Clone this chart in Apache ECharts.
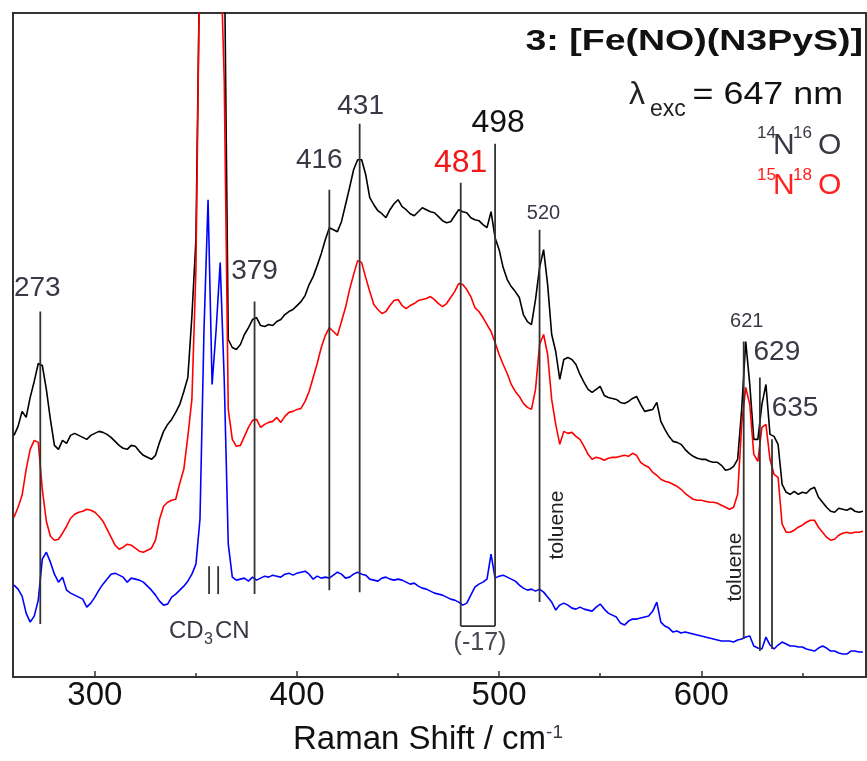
<!DOCTYPE html>
<html>
<head>
<meta charset="utf-8">
<title>Raman spectra of [Fe(NO)(N3PyS)]</title>
<script src="https://cdn.jsdelivr.net/npm/echarts@6/dist/echarts.min.js"></script>
<style>
  html, body { margin: 0; padding: 0; background: #fff; }
  #chart { width: 867px; height: 761px; }
</style>
</head>
<body>
<div id="chart"></div>
<script>
// Raman shift sampling (cm-1)
const shift = [
  260,262,264,266,268,270,272,274,276,278,280,282,284,286,288,290,292,294,296,298,
  300,302,304,306,308,310,312,314,316,318,320,322,324,326,328,330,332,334,336,338,
  340,342,344,346,348,350,352,354,356,358,360,362,364,366,368,370,372,374,376,378,
  380,382,384,386,388,390,392,394,396,398,400,402,404,406,408,410,412,414,416,418,
  420,422,424,426,428,430,432,434,436,438,440,442,444,446,448,450,452,454,456,458,
  460,462,464,466,468,470,472,474,476,478,480,482,484,486,488,490,492,494,496,498,
  500,502,504,506,508,510,512,514,516,518,520,522,524,526,528,530,532,534,536,538,
  540,542,544,546,548,550,552,554,556,558,560,562,564,566,568,570,572,574,576,578,
  580,582,584,586,588,590,592,594,596,598,600,602,604,606,608,610,612,614,616,618,
  620,622,624,626,628,630,632,634,636,638,640,642,644,646,648,650,652,654,656,658,
  660,662,664,666,668,670,672,674,676,678,680
];

// 14N16O spectrum (offset, arbitrary units; solvent bands near 350-364 run off scale)
const n14o16 = [
  242,251,266,260,280,296,314,312,288,258,232,228,237,234,242,244,242,240,238,242,
  244,246,245,243,240,236,232,229,228,232,231,226,222,220,218,222,235,246,253,258,
  265,273,286,300,361,438,740,740,740,740,740,740,740,338,330,328,333,343,350,358,
  360,352,351,353,352,356,358,363,366,368,372,376,382,393,401,412,424,438,450,448,
  446,456,473,490,508,518,518,503,480,473,467,464,460,468,474,478,471,468,464,462,
  466,470,468,466,465,461,457,455,456,462,468,466,465,460,458,457,453,450,466,440,
  428,410,398,391,386,380,363,356,353,378,410,428,393,343,326,298,318,320,318,313,
  303,295,288,285,288,291,282,280,279,278,275,274,276,279,281,273,266,267,268,275,
  256,248,241,236,235,233,228,224,221,219,218,218,216,215,215,212,207,208,211,218,
  268,336,293,238,238,273,293,243,241,233,193,185,183,186,183,185,184,188,190,180,
  175,170,166,165,169,168,167,169,166,165,166
];

// 15N18O spectrum
const n15o18 = [
  160,170,182,208,228,237,235,188,156,141,137,138,144,151,159,163,165,166,168,167,
  165,161,156,148,140,132,128,130,133,132,129,126,125,127,129,137,158,171,175,177,
  178,194,208,241,278,408,740,740,740,740,740,740,598,268,238,231,232,241,250,257,
  258,250,253,255,256,260,255,261,265,266,268,269,276,286,300,314,330,342,350,346,
  342,356,370,388,403,417,415,400,386,373,368,364,366,372,377,378,372,369,372,374,
  377,378,379,381,378,374,371,374,380,386,394,393,388,381,370,366,360,353,346,335,
  323,313,304,293,286,281,274,270,268,288,333,343,323,278,253,233,246,244,245,241,
  238,231,223,218,220,219,217,219,220,220,221,222,221,224,222,215,212,210,205,202,
  198,196,195,193,191,188,184,181,178,177,177,176,175,175,174,172,170,168,170,183,
  253,290,273,223,216,250,253,218,203,200,153,145,145,147,150,152,155,157,157,150,
  145,140,137,138,142,144,145,144,145,145,146
];

// Difference / solvent trace
const diffTrace = [
  92,88,81,64,55,61,77,118,125,115,103,95,100,87,84,82,80,78,70,74,
  80,87,93,98,103,104,102,100,95,99,98,97,95,91,87,82,76,72,73,80,
  83,87,91,96,103,113,158,348,478,293,348,415,298,133,100,97,98,99,96,100,
  97,99,101,100,102,101,100,103,104,102,104,105,106,103,98,101,99,100,99,102,
  105,103,99,100,103,105,103,102,98,97,96,99,100,98,97,98,97,95,93,94,
  91,89,88,86,84,83,82,80,78,77,75,72,74,82,90,93,95,98,123,99,
  101,102,100,98,96,92,89,87,88,86,88,85,80,75,67,72,74,72,69,68,
  70,68,67,66,70,73,68,64,62,60,54,52,56,58,58,59,60,61,66,75,
  55,51,49,45,46,44,45,44,43,42,41,40,39,38,37,36,36,36,35,37,
  38,40,41,31,29,28,40,32,28,32,35,33,31,31,30,30,28,27,26,29,
  31,29,26,26,24,23,23,26,26,25,25
];

// Assigned bands (cm-1) and the extent of their marker lines
const bandPos    = [273, 379, 416, 431, 481, 498, 520, 621, 629, 635];
const bandTop    = [366, 376, 488, 554, 495, 534, 448, 336, 300, 238];
const bandBottom = [ 53,  83,  87,  85,  51,  51,  75,  38,  26,  28];

// CD3CN solvent band markers
const solventPos    = [356.5, 361];
const solventTop    = [111, 111];
const solventBottom = [83, 83];

// Axis ticks
const majorTicks = [300, 400, 500, 600];
const minorTicks = [350, 450, 550, 650];

const FONT = '"Liberation Sans", Arial, Helvetica, sans-serif';
const GREY = '#3c3744';

// label styling for each band number (offset from the top of its line)
const bandLabelStyle = [
  { dx: -3,  dy: -23, size: 28, color: GREY },
  { dx: 0,   dy: -30, size: 28, color: GREY },
  { dx: -10, dy: -29, size: 28, color: GREY },
  { dx: 1,   dy: -18, size: 28, color: GREY },
  { dx: 0,   dy: -20, size: 32, color: '#f01818' },
  { dx: 3,   dy: -21, size: 32, color: '#111111' },
  { dx: 4,   dy: -16, size: 20, color: GREY },
  { dx: 3,   dy: -20, size: 20, color: GREY },
  { dx: 17,  dy: -25, size: 28, color: GREY },
  { dx: 23,  dy: -31, size: 28, color: GREY }
];

const zip = (xs, ys) => xs.map((x, i) => [x, ys[i]]);

function markerLines(withLabels) {
  return function (params, api) {
    const p1 = api.coord([api.value(0), api.value(1)]);
    const p2 = api.coord([api.value(0), api.value(2)]);
    const children = [{
      type: 'line',
      shape: { x1: p1[0], y1: p1[1], x2: p2[0], y2: p2[1] },
      style: { stroke: '#333333', lineWidth: 1.8 }
    }];
    if (withLabels) {
      const st = bandLabelStyle[params.dataIndex];
      children.push({
        type: 'text',
        x: p1[0] + st.dx,
        y: p1[1] + st.dy,
        style: {
          text: String(api.value(0)),
          fontSize: st.size,
          fontFamily: FONT,
          fill: st.color,
          align: 'center',
          verticalAlign: 'middle'
        }
      });
    }
    return { type: 'group', children: children };
  };
}

function txt(x, y, text, size, color, extra) {
  return Object.assign({
    type: 'text', x: x, y: y, z: 50,
    style: Object.assign({
      text: text, fontSize: size, fontFamily: FONT, fill: color,
      align: 'left', verticalAlign: 'middle'
    }, (extra && extra.style) || {})
  }, (extra && extra.el) || {});
}

const chart = echarts.init(document.getElementById('chart'), null, { renderer: 'canvas' });

chart.setOption({
  animation: false,
  backgroundColor: '#ffffff',
  grid: {
    left: 13, right: 1, top: 13, bottom: 83,
    show: true, borderColor: '#333333', borderWidth: 2
  },
  xAxis: [{
    type: 'value', min: 259.5, max: 681.5, position: 'bottom',
    axisLine: { show: true, lineStyle: { color: '#333333', width: 2 } },
    axisTick: { show: true, inside: true, length: 6, customValues: majorTicks,
                lineStyle: { color: '#333333', width: 1.5 } },
    axisLabel: { customValues: majorTicks, fontSize: 33, fontFamily: FONT, color: '#111111',
                 margin: 2, lineHeight: 33 },
    splitLine: { show: false },
    name: '{a|Raman Shift / cm}{b|-1}',
    nameLocation: 'middle',
    nameGap: 46,
    nameTextStyle: {
      padding: [0, 23, 0, 0],
      rich: {
        a: { fontSize: 33, fontFamily: FONT, color: '#111111', lineHeight: 33 },
        b: { fontSize: 19, fontFamily: FONT, color: '#3c3744', verticalAlign: 'top', lineHeight: 19 }
      }
    }
  }, {
    type: 'value', min: 259.5, max: 681.5, position: 'bottom', offset: 0,
    axisLine: { show: false },
    axisTick: { show: true, inside: true, length: 4, customValues: minorTicks,
                lineStyle: { color: '#333333', width: 1.5 } },
    axisLabel: { show: false },
    splitLine: { show: false }
  }],
  yAxis: { type: 'value', min: 0, max: 665, show: false },
  series: [
    {
      name: '14N16O', type: 'line', data: zip(shift, n14o16), symbol: 'none',
      lineStyle: { color: '#000000', width: 1.6 }, clip: true, z: 3
    },
    {
      name: '15N18O', type: 'line', data: zip(shift, n15o18), symbol: 'none',
      lineStyle: { color: '#ff0000', width: 1.6 }, clip: true, z: 3
    },
    {
      name: 'difference', type: 'line', data: zip(shift, diffTrace), symbol: 'none',
      lineStyle: { color: '#0000ff', width: 1.6 }, clip: true, z: 3
    },
    {
      name: 'bands', type: 'custom', clip: false, z: 5,
      data: bandPos.map((p, i) => [p, bandTop[i], bandBottom[i]]),
      renderItem: markerLines(true)
    },
    {
      name: 'solvent', type: 'custom', clip: false, z: 5,
      data: solventPos.map((p, i) => [p, solventTop[i], solventBottom[i]]),
      renderItem: markerLines(false)
    },
    {
      // bracket joining the 481 / 498 pair
      name: 'shift', type: 'line', symbol: 'none', z: 5,
      data: [[bandPos[4], bandBottom[4]], [bandPos[5], bandBottom[5]]],
      lineStyle: { color: '#333333', width: 1.8 }
    }
  ],
  graphic: [
    txt(863, 42, '3: [Fe(NO)(N3PyS)]', 30, '#111111',
        { style: { fontWeight: 'bold', align: 'right' }, el: { scaleX: 1.25 } }),
    txt(629, 95, 'λ', 32, '#222222'),
    txt(650, 110, 'exc', 23, '#222222'),
    txt(843, 95, '= 647 nm', 32, '#111111', { style: { align: 'right' }, el: { scaleX: 1.12 } }),
    txt(757, 133, '14', 17, GREY),
    txt(773, 146, 'N', 30, GREY),
    txt(793, 133, '16', 17, GREY),
    txt(818, 146, 'O', 30, GREY),
    txt(757, 175, '15', 17, '#ff2020'),
    txt(773, 186, 'N', 30, '#ff2020'),
    txt(793, 175, '18', 17, '#ff2020'),
    txt(818, 186, 'O', 30, '#ff2020'),
    txt(169, 631, 'CD', 24, GREY),
    txt(204, 640, '3', 16, GREY),
    txt(215, 631, 'CN', 24, GREY),
    txt(480, 643, '(-17)', 25, '#4b4552', { style: { align: 'center' } }),
    txt(557, 525, 'toluene', 21, '#222222', { style: { align: 'center' }, el: { rotation: Math.PI / 2 } }),
    txt(735, 567, 'toluene', 21, '#222222', { style: { align: 'center' }, el: { rotation: Math.PI / 2 } })
  ]
});
</script>
</body>
</html>
